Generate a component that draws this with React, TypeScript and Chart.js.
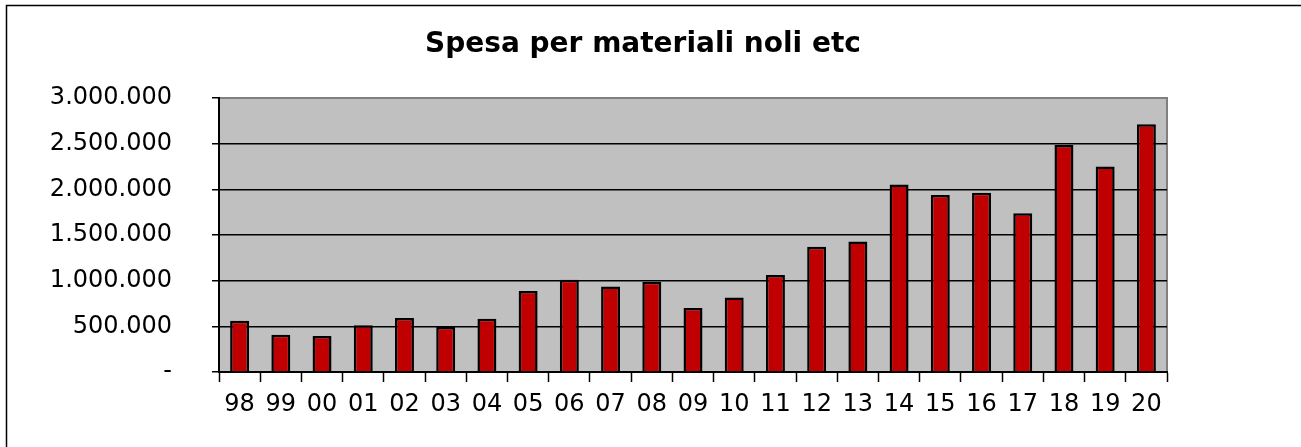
import React, { useEffect, useRef } from "react";
import { Chart, registerables } from "chart.js";

Chart.register(...registerables);

const years = ["98", "99", "00", "01", "02", "03", "04", "05", "06", "07", "08", "09", "10", "11", "12", "13", "14", "15", "16", "17", "18", "19", "20"];
const spesa = [562000, 409000, 395000, 511000, 591000, 493000, 584000, 888000, 1011000, 935000, 989000, 700000, 815000, 1062000, 1370000, 1428000, 2054000, 1938000, 1962000, 1739000, 2486000, 2249000, 2712000];
const chartTitle = "Spesa per materiali noli etc";
const yMax = 3000000;
const yStep = 500000;

const frame = {
  id: "frame",
  beforeDraw(chart: any) {
    const { ctx, chartArea: a } = chart;
    ctx.save();
    ctx.fillStyle = "#ffffff";
    ctx.fillRect(0, 0, chart.width, chart.height);
    ctx.strokeStyle = "#000";
    ctx.lineWidth = 1.5;
    ctx.beginPath();
    ctx.moveTo(6.5, chart.height + 2);
    ctx.lineTo(6.5, 5.5);
    ctx.lineTo(chart.width + 2, 5.5);
    ctx.stroke();
    ctx.fillStyle = "#C0C0C0";
    ctx.fillRect(a.left, a.top, a.right - a.left, a.bottom - a.top);
    ctx.strokeStyle = "#808080";
    ctx.lineWidth = 2;
    ctx.strokeRect(a.left, a.top, a.right - a.left, a.bottom - a.top);
    ctx.restore();
  },
};

function fmt(v: number) {
  if (v === 0) return "-";
  return Math.round(v).toString().replace(/\B(?=(\d{3})+(?!\d))/g, ".");
}

export default function App() {
  const ref = useRef<HTMLCanvasElement>(null);
  useEffect(() => {
    if (!ref.current) return;
    const chart = new Chart(ref.current, {
      type: "bar",
      data: {
        labels: years,
        datasets: [
          {
            data: spesa,
            backgroundColor: "#C00000",
            borderColor: "#000000",
            borderWidth: 2.5,
            barPercentage: 0.46,
            categoryPercentage: 1,
          },
        ],
      },
      options: {
        animation: false,
        responsive: false,
        maintainAspectRatio: false,
        layout: { padding: { left: 0, top: 28, right: 15, bottom: 0 } },
        plugins: {
          legend: { display: false },
          tooltip: { enabled: false },
          title: {
            display: true,
            text: chartTitle,
            color: "#000",
            font: { family: "DejaVu Sans", size: 28, weight: "bold" },
            padding: { top: 0, bottom: 36.4 },
          },
        },
        scales: {
          x: {
            grid: {
              display: true,
              drawOnChartArea: false,
              drawTicks: true,
              tickLength: 10,
              tickColor: "#000",
              tickWidth: 1.5,
              offset: true,
            },
            border: { display: true, color: "#000", width: 2 },
            ticks: {
              color: "#000",
              font: { family: "DejaVu Sans", size: 24 },
              padding: 8,
              maxRotation: 0,
              autoSkip: false,
            },
            afterFit(s: any) {
              s.height = 75;
            },
          },
          y: {
            min: 0,
            max: yMax,
            grid: {
              color: (c: any) => (c.tick && c.tick.value === yMax ? "#808080" : "#000"),
              lineWidth: 1.5,
              tickLength: 7,
              tickColor: "#000",
              tickWidth: 1.5,
            },
            border: { display: true, color: "#000", width: 2 },
            ticks: {
              stepSize: yStep,
              color: "#000",
              font: { family: "DejaVu Sans", size: 24 },
              padding: 40,
              callback: (v: any) => fmt(Number(v)),
            },
            afterFit(s: any) {
              s.width = 219;
            },
          },
          spacer: {
            type: "linear",
            position: "right",
            display: true,
            grid: { display: false },
            border: { display: false },
            ticks: { display: false },
            afterFit(s: any) {
              s.width = 119;
            },
          },
        },
      },
      plugins: [frame],
    });
    return () => chart.destroy();
  }, []);
  return (
    <div style={{ position: "absolute", left: 0, top: 0, width: 1301, height: 447 }}>
      <canvas ref={ref} width={1301} height={447} style={{ display: "block", width: 1301, height: 447 }} />
    </div>
  );
}
